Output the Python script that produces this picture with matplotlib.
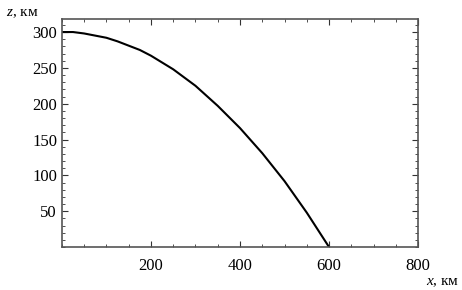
import matplotlib
matplotlib.use('Agg')
import matplotlib.pyplot as plt
from matplotlib.ticker import MultipleLocator

# trajectory
x_km = [0, 25, 50, 75, 100, 125, 150, 175, 200, 250, 300, 350, 400, 450, 500, 550, 600]
z_km = [300, 300, 298, 295, 292, 287, 281, 275, 267, 248, 225, 197, 166, 131, 92, 48, 0]

plt.rcParams['font.family'] = ['Liberation Serif', 'DejaVu Serif']
plt.rcParams['mathtext.fontset'] = 'custom'
plt.rcParams['mathtext.it'] = 'Liberation Serif:italic'
plt.rcParams['mathtext.rm'] = 'Liberation Serif'

fig = plt.figure(figsize=(4.62, 2.90), dpi=100)
ax = fig.add_axes([0.134, 0.148, 0.771, 0.786])
ax.plot(x_km, z_km, color='black', lw=1.5)

ax.set_xlim(0, 800)
ax.set_ylim(0, 318)
ax.set_xticks([200, 400, 600, 800])
ax.xaxis.set_minor_locator(MultipleLocator(50))
ax.set_yticks([50, 100, 150, 200, 250, 300])
ax.yaxis.set_minor_locator(MultipleLocator(10))
ax.tick_params(which='both', direction='in', top=True, right=True,
               color='#333333', labelsize=12)
ax.tick_params(which='major', length=4, width=0.8)
ax.tick_params(which='minor', length=2, width=0.6)
ax.tick_params(axis='x', pad=8)
for s in ax.spines.values():
    s.set_color('#555555')
    s.set_linewidth(1.2)

fig.text(0.012, 0.955, '$z$, км', fontsize=11, ha='left', va='center')
fig.text(0.995, 0.025, '$x$, км', fontsize=11, ha='right', va='center')

fig.savefig('out.png', dpi=100)
